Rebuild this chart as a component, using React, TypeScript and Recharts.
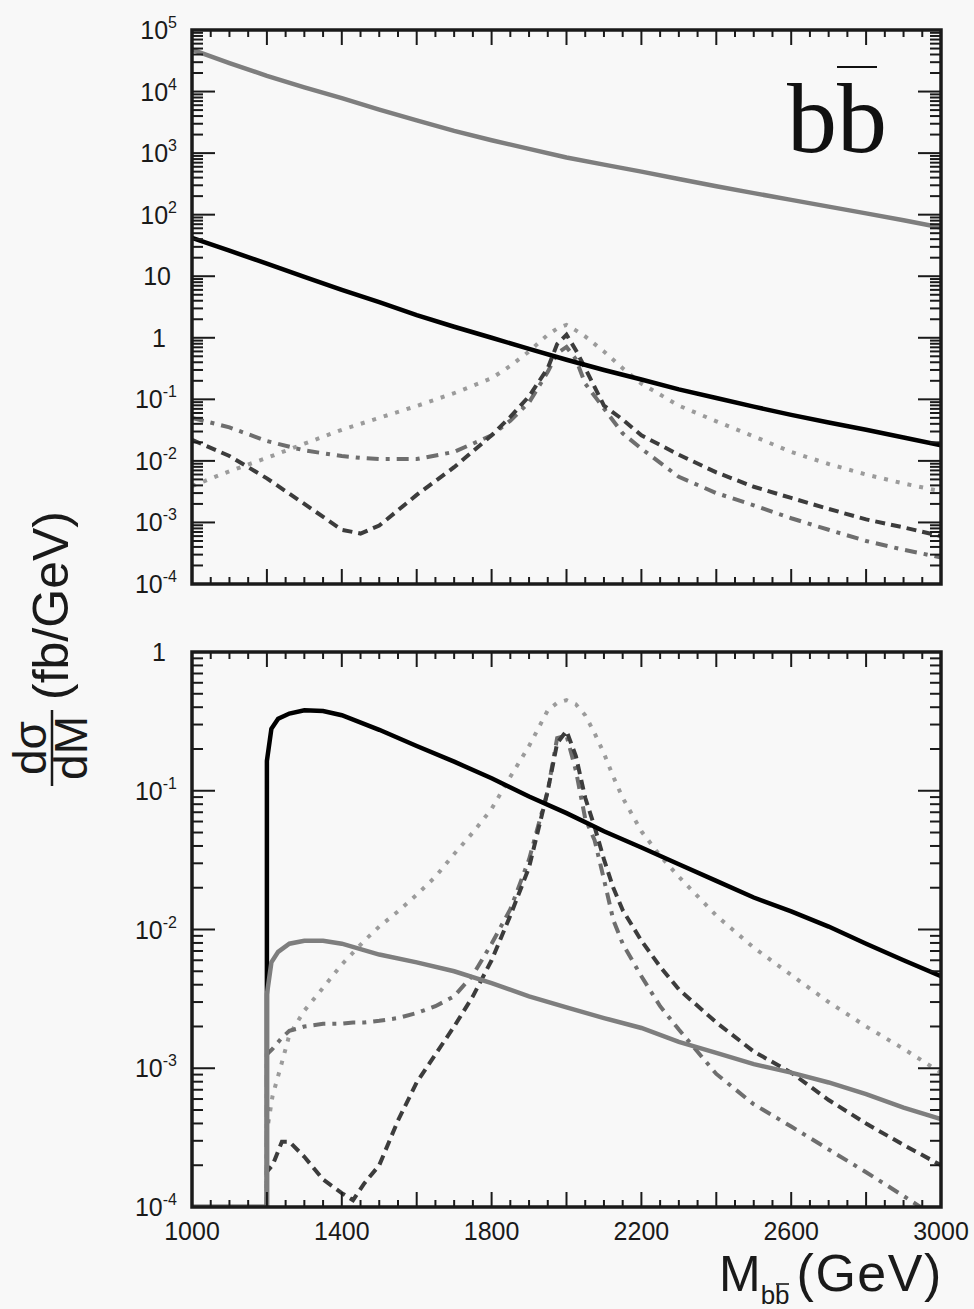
import { LineChart, Line, XAxis, YAxis } from "recharts";

// ---- data ----
const X_TICK_LABELS = [1000, 1400, 1800, 2200, 2600, 3000];

// upper panel, smooth backgrounds
const topMass = [1000, 1100, 1200, 1300, 1400, 1500, 1600, 1700, 1800, 1900, 2000, 2100, 2200, 2300, 2400, 2500, 2600, 2700, 2800, 2900, 3000];
const topQcd = [48000, 29000, 18000, 11700, 7800, 5100, 3400, 2300, 1620, 1170, 850, 650, 500, 380, 290, 224, 174, 135, 105, 81, 62];
const topSm = [42, 26, 16, 9.8, 6.0, 3.8, 2.34, 1.51, 1.0, 0.66, 0.44, 0.3, 0.21, 0.145, 0.105, 0.076, 0.056, 0.042, 0.032, 0.024, 0.018];

// upper panel, resonant signals
const topPeakMass = [1000, 1100, 1200, 1300, 1400, 1450, 1500, 1600, 1700, 1800, 1850, 1900, 1950, 1975, 2000, 2025, 2050, 2100, 2150, 2200, 2300, 2400, 2500, 2600, 2700, 2800, 2900, 3000];
const topDotted = [0.0039, 0.0068, 0.0112, 0.019, 0.032, 0.04, 0.05, 0.078, 0.126, 0.22, 0.35, 0.6, 1.12, 1.41, 1.62, 1.32, 1.05, 0.6, 0.32, 0.18, 0.079, 0.044, 0.025, 0.014, 0.0089, 0.006, 0.0043, 0.0032];
const topDashDot = [0.05, 0.035, 0.021, 0.0148, 0.012, 0.0112, 0.0107, 0.0107, 0.014, 0.026, 0.045, 0.089, 0.28, 0.56, 0.71, 0.45, 0.18, 0.071, 0.028, 0.0158, 0.0055, 0.003, 0.0019, 0.00117, 0.00076, 0.0005, 0.00036, 0.00027];
const topDashed = [0.022, 0.012, 0.0052, 0.002, 0.00076, 0.00066, 0.00089, 0.0028, 0.0079, 0.026, 0.052, 0.112, 0.32, 0.79, 1.12, 0.63, 0.32, 0.079, 0.047, 0.026, 0.0126, 0.0065, 0.0038, 0.0025, 0.00166, 0.00112, 0.00083, 0.0006];

// lower panel (after cuts), smooth backgrounds
const lowMass = [1000, 1200, 1200, 1212, 1230, 1260, 1300, 1350, 1400, 1500, 1600, 1700, 1800, 1900, 2000, 2100, 2200, 2300, 2400, 2500, 2600, 2700, 2800, 2900, 3000];
const lowSm = [1e-4, 1e-4, 0.164, 0.28, 0.33, 0.36, 0.38, 0.375, 0.35, 0.275, 0.21, 0.162, 0.123, 0.091, 0.069, 0.051, 0.039, 0.0295, 0.0224, 0.017, 0.0135, 0.0105, 0.0079, 0.006, 0.0046];
const lowQcd = [1e-4, 1e-4, 0.0034, 0.0058, 0.0069, 0.0079, 0.0083, 0.0083, 0.0079, 0.0066, 0.0058, 0.005, 0.0041, 0.0033, 0.00275, 0.0023, 0.00195, 0.00155, 0.00129, 0.00107, 0.00093, 0.00079, 0.00065, 0.00052, 0.00043];

// lower panel, resonant signals
const lowPeakMass = [1200, 1200, 1215, 1240, 1260, 1300, 1350, 1400, 1430, 1460, 1500, 1550, 1600, 1650, 1700, 1750, 1800, 1850, 1900, 1950, 1975, 2000, 2025, 2050, 2075, 2100, 2125, 2150, 2200, 2250, 2300, 2400, 2500, 2600, 2700, 2800, 2900, 3000];
const lowDotted = [1e-4, 0.00035, 0.00063, 0.0011, 0.00174, 0.0026, 0.0038, 0.0056, 0.0068, 0.0083, 0.0105, 0.0135, 0.0178, 0.024, 0.035, 0.05, 0.074, 0.126, 0.21, 0.38, 0.43, 0.45, 0.42, 0.35, 0.26, 0.186, 0.126, 0.089, 0.051, 0.034, 0.024, 0.0126, 0.0074, 0.0047, 0.003, 0.002, 0.00138, 0.00093];
const lowDashDot = [1e-4, 0.00126, 0.00138, 0.00166, 0.00186, 0.002, 0.00209, 0.0021, 0.00214, 0.00214, 0.0022, 0.0023, 0.0025, 0.0028, 0.0033, 0.0047, 0.0079, 0.014, 0.032, 0.1, 0.24, 0.25, 0.14, 0.063, 0.044, 0.023, 0.0117, 0.0079, 0.0046, 0.0028, 0.0019, 0.00091, 0.00055, 0.00038, 0.00026, 0.000178, 0.00012, 0.00008];
const lowDashed = [1e-4, 0.00018, 0.0002, 0.000295, 0.000295, 0.00023, 0.000158, 0.000126, 0.000112, 0.000148, 0.0002, 0.00042, 0.00079, 0.00126, 0.002, 0.0033, 0.006, 0.0126, 0.028, 0.1, 0.22, 0.27, 0.178, 0.089, 0.055, 0.032, 0.02, 0.0138, 0.0083, 0.0054, 0.0037, 0.00214, 0.00132, 0.00093, 0.00059, 0.0004, 0.00028, 0.0002];

// ---- layout ----
const INK = "#1a1a1a";
const FONT = '"Liberation Sans", Arial, Helvetica, sans-serif';
const PLOT_L = 192;
const PLOT_R = 941;

const zip = (ms: number[], vs: number[]) => ms.map((m, i) => ({ m, v: vs[i] }));

const xTicks: number[] = [];
for (let m = 1000; m <= 3000; m += 50) xTicks.push(m);

function logTicks(lo: number, hi: number) {
  const out: number[] = [];
  for (let e = lo; e < hi; e++) {
    for (let k = 1; k < 10; k++) out.push(Number((k * Math.pow(10, e)).toPrecision(2)));
  }
  out.push(Math.pow(10, hi));
  return out;
}
const topYTicks = logTicks(-4, 5);
const lowYTicks = logTicks(-4, 0);

function XTick(props: any) {
  const { x, payload, top, bottom, labels } = props;
  const v = payload.value;
  const len = v % 200 === 0 ? 15 : 7;
  return (
    <g>
      <line x1={x} x2={x} y1={bottom} y2={bottom - len} stroke={INK} strokeWidth={2} />
      <line x1={x} x2={x} y1={top} y2={top + len} stroke={INK} strokeWidth={2} />
      {labels && X_TICK_LABELS.includes(v) && (
        <text x={x} y={bottom + 33} textAnchor="middle" fontSize={25} fill={INK} fontFamily={FONT}>
          {v}
        </text>
      )}
    </g>
  );
}

function YTick(props: any) {
  const { y, payload } = props;
  const l = Math.log10(payload.value);
  const e = Math.round(l);
  const major = Math.abs(l - e) < 1e-6;
  const len = major ? 23 : 11;
  let label = null;
  if (major) {
    if (e === 0 || e === 1) {
      label = (
        <text x={e === 0 ? 166 : 171} y={y + 9} textAnchor="end" fontSize={25} fill={INK} fontFamily={FONT}>
          {e === 0 ? "1" : "10"}
        </text>
      );
    } else {
      label = (
        <text x={177} y={y + 9} textAnchor="end" fontSize={25} fill={INK} fontFamily={FONT}>
          10
          <tspan dy={-11} fontSize={16}>
            {e}
          </tspan>
        </text>
      );
    }
  }
  return (
    <g>
      <line x1={PLOT_L} x2={PLOT_L + len} y1={y} y2={y} stroke={INK} strokeWidth={2} />
      <line x1={PLOT_R - len} x2={PLOT_R} y1={y} y2={y} stroke={INK} strokeWidth={2} />
      {label}
    </g>
  );
}

const styles = {
  sm: { stroke: "#000000", strokeWidth: 4.5 },
  qcd: { stroke: "#7e7e7e", strokeWidth: 4.5 },
  dotted: { stroke: "#9b9b9b", strokeWidth: 4, strokeDasharray: "4 8" },
  dashDot: { stroke: "#6e6e6e", strokeWidth: 4, strokeDasharray: "12 7 4 7" },
  dashed: { stroke: "#3c3c3c", strokeWidth: 4, strokeDasharray: "10 6" },
};

type Pt = { m: number; v: number };

function Panel({
  height,
  top,
  bottomGap,
  xAxisHeight,
  domain,
  yTicks,
  labels,
  series,
}: {
  height: number;
  top: number;
  bottomGap: number;
  xAxisHeight: number;
  domain: [number, number];
  yTicks: number[];
  labels: boolean;
  series: { data: Pt[]; style: any; name: string }[];
}) {
  const plotBottom = height - bottomGap - xAxisHeight;
  return (
    <LineChart width={974} height={height} margin={{ top, right: 974 - PLOT_R, bottom: bottomGap, left: PLOT_L - 80 }}>
      <XAxis
        type="number"
        dataKey="m"
        domain={[1000, 3000]}
        ticks={xTicks}
        interval={0}
        height={xAxisHeight}
        tickLine={false}
        axisLine={false}
        allowDataOverflow
        tick={(p: any) => <XTick {...p} top={top} bottom={plotBottom} labels={labels} />}
      />
      <YAxis
        type="number"
        scale="log"
        domain={domain}
        ticks={yTicks}
        interval={0}
        width={80}
        tickLine={false}
        axisLine={false}
        allowDataOverflow
        tick={(p: any) => <YTick {...p} />}
      />
      {series.map((s) => (
        <Line
          key={s.name}
          data={s.data}
          dataKey="v"
          type="linear"
          dot={false}
          activeDot={false}
          isAnimationActive={false}
          strokeLinecap="butt"
          {...s.style}
        />
      ))}
    </LineChart>
  );
}

export default function App() {
  const topSeries = [
    { name: "dotted", data: zip(topPeakMass, topDotted), style: styles.dotted },
    { name: "dashDot", data: zip(topPeakMass, topDashDot), style: styles.dashDot },
    { name: "dashed", data: zip(topPeakMass, topDashed), style: styles.dashed },
    { name: "qcd", data: zip(topMass, topQcd), style: styles.qcd },
    { name: "sm", data: zip(topMass, topSm), style: styles.sm },
  ];
  const lowSeries = [
    { name: "dotted", data: zip(lowPeakMass, lowDotted), style: styles.dotted },
    { name: "dashDot", data: zip(lowPeakMass, lowDashDot), style: styles.dashDot },
    { name: "dashed", data: zip(lowPeakMass, lowDashed), style: styles.dashed },
    { name: "sm", data: zip(lowMass, lowSm), style: styles.sm },
    { name: "qcd", data: zip(lowMass, lowQcd), style: styles.qcd },
  ];

  return (
    <div
      style={{
        position: "absolute",
        left: 0,
        top: 0,
        width: 974,
        height: 1309,
        background: "#f8f8f8",
        overflow: "hidden",
        fontFamily: FONT,
      }}
    >
      <div style={{ position: "absolute", left: 0, top: 0 }}>
        <Panel height={620} top={30} bottomGap={6} xAxisHeight={30} domain={[1e-4, 1e5]} yTicks={topYTicks} labels={false} series={topSeries} />
      </div>
      <div style={{ position: "absolute", left: 0, top: 620 }}>
        <Panel height={689} top={32} bottomGap={62} xAxisHeight={40} domain={[1e-4, 1]} yTicks={lowYTicks} labels={true} series={lowSeries} />
      </div>
      <svg width={974} height={1309} style={{ position: "absolute", left: 0, top: 0, pointerEvents: "none" }}>
        <rect x={PLOT_L} y={30} width={PLOT_R - PLOT_L} height={554} fill="none" stroke={INK} strokeWidth={3.5} />
        <rect x={PLOT_L} y={652} width={PLOT_R - PLOT_L} height={555} fill="none" stroke={INK} strokeWidth={3.5} />

        {/* process label */}
        <text x={787} y={152} fontSize={100} fontFamily='"Liberation Serif", "Times New Roman", serif' fill="#111">
          bb
        </text>
        <line x1={837} x2={877} y1={67} y2={67} stroke="#111" strokeWidth={2.2} />

        {/* y title */}
        <g transform="translate(0,640) rotate(-90)" fontFamily={FONT} fill={INK}>
          <text x={-108} y={46} fontSize={46} textAnchor="middle">
            dσ
          </text>
          <line x1={-146} x2={-70} y1={52} y2={52} stroke={INK} strokeWidth={2.5} />
          <text x={-108} y={87} fontSize={46} textAnchor="middle">
            dM
          </text>
          <text x={-60} y={68} fontSize={50}>
            (fb/GeV)
          </text>
        </g>

        {/* x title */}
        <text x={719} y={1291} fontSize={50} fontFamily={FONT} fill={INK}>
          M
          <tspan fontSize={26} dy={13}>
            bb
          </tspan>
          <tspan fontSize={52} dy={-13} dx={7} letterSpacing={1.5}>
            (GeV)
          </tspan>
        </text>
        <line x1={776} x2={789} y1={1284} y2={1284} stroke={INK} strokeWidth={1.6} />
      </svg>
    </div>
  );
}
